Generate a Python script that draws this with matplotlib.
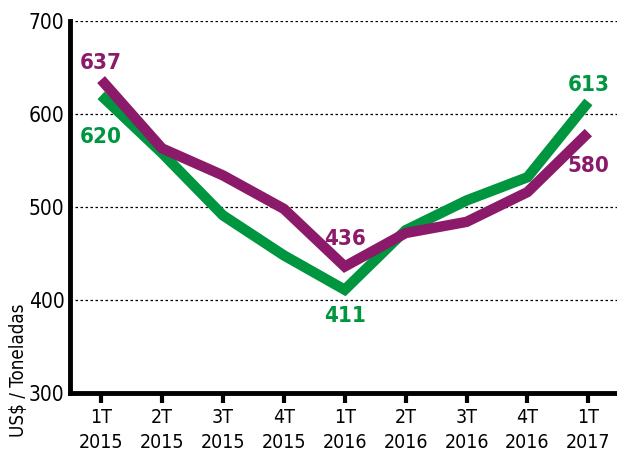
import matplotlib.pyplot as plt

# Data
quarters = ['1T\n2015', '2T\n2015', '3T\n2015', '4T\n2015', '1T\n2016',
            '2T\n2016', '3T\n2016', '4T\n2016', '1T\n2017']
green_vals = [620, 558, 491, 448, 411, 475, 507, 532, 613]
purple_vals = [637, 563, 534, 498, 436, 472, 484, 516, 580]
yticks = [300, 400, 500, 600, 700]

plt.rcParams['font.family'] = ['DejaVu Sans']
plt.rcParams['font.stretch'] = 'condensed'

green = '#009640'
purple = '#8b1a6b'

fig = plt.figure(figsize=(6.17, 4.61), dpi=100)
ax = fig.add_axes([0.1135, 0.1475, 0.8865, 0.807])

x = range(len(quarters))
ax.plot(x, green_vals, color=green, lw=7.5, solid_joinstyle='miter', solid_capstyle='butt', zorder=3)
ax.plot(x, purple_vals, color=purple, lw=7.5, solid_joinstyle='miter', solid_capstyle='butt', zorder=4)

ax.set_xlim(-0.51, 8.47)
ax.set_ylim(300, 700)
ax.set_yticks(yticks)
ax.set_xticks(list(x))
ax.set_xticklabels(quarters, fontsize=14, linespacing=1.4)
ax.tick_params(axis='y', length=0, labelsize=15, pad=4)
ax.tick_params(axis='x', length=7, width=3, direction='out', pad=4)
ax.yaxis.grid(True, color='black', linestyle=(0, (2, 2)), linewidth=0.9)
ax.set_axisbelow(True)

for s in ['top', 'right']:
    ax.spines[s].set_visible(False)
for s in ['left', 'bottom']:
    ax.spines[s].set_linewidth(3.5)

# value labels
def label(i, v, col, dy):
    ax.annotate(str(v), (i, v), xytext=(0, dy), textcoords='offset points',
                ha='center', va='center', color=col, fontsize=16, fontweight='bold')

label(0, purple_vals[0], purple, 12)
label(0, green_vals[0], green, -30)
label(4, purple_vals[4], purple, 20)
label(4, green_vals[4], green, -19)
label(8, green_vals[8], green, 12)
label(8, purple_vals[8], purple, -24)

fig.text(0.03, 0.197, 'US$ / Toneladas', rotation=90, fontsize=13.5,
         ha='center', va='center')

fig.savefig('out.png', dpi=100)
